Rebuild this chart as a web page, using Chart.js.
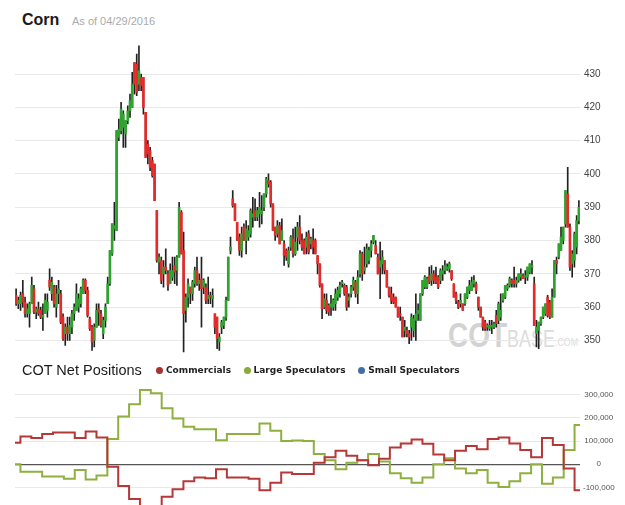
<!DOCTYPE html>
<html>
<head>
<meta charset="utf-8">
<script src="https://cdn.jsdelivr.net/npm/chart.js@4.4.1/dist/chart.umd.min.js"></script>
<style>
  html, body { margin: 0; padding: 0; background: #fff; }
  body { width: 625px; height: 505px; overflow: hidden; position: relative; font-family: "Liberation Sans", Arial, sans-serif; }
  .abs { position: absolute; white-space: nowrap; }
  #title { left: 22px; top: 11.5px; font-size: 16px; line-height: 16px; font-weight: bold; color: #1a1a1a; }
  #asof { left: 72px; top: 15.7px; font-size: 11px; line-height: 11px; color: #aaa; }
  .mark { font-family: "Liberation Sans", sans-serif; color: #dcdcdc; transform-origin: 0 0; }
  #markA { left: 448px; top: 317.4px; font-size: 35px; line-height: 35px; font-weight: bold; color: #d3d3d3; transform: scaleX(0.8); }
  #markB { left: 507px; top: 327.5px; font-size: 23px; line-height: 23px; transform: scaleX(0.78); }
  #markC { left: 555px; top: 336.7px; font-size: 11px; line-height: 11px; transform: scaleX(0.8); }
  #priceChart { position: absolute; left: 0; top: 0; }
  #cotTitle { left: 22px; top: 363.4px; font-size: 14.5px; line-height: 14.5px; color: #1a1a1a; }
  #legend { left: 156px; top: 365.7px; font: bold 9px "DejaVu Sans", sans-serif; line-height: 9px; color: #222; display: flex; }
  #legend .item { display: flex; align-items: center; margin-right: 12.5px; }
  #legend .dot { width: 7px; height: 7px; border-radius: 50%; margin-right: 3px; }
  #cotChart { position: absolute; left: 0; top: 380px; }
</style>
</head>
<body>
<div id="title" class="abs">Corn</div>
<div id="asof" class="abs">As of 04/29/2016</div>
<div id="markA" class="abs mark">COT</div>
<div id="markB" class="abs mark">BASE</div>
<div id="markC" class="abs mark">.COM</div>
<canvas id="priceChart" width="625" height="367"></canvas>
<div id="cotTitle" class="abs">COT Net Positions</div>
<div id="legend" class="abs"></div>
<canvas id="cotChart" width="625" height="150"></canvas>
<script>
// --- DATA: daily corn prices (cents/bu), 04/2015 - 04/29/2016 ---
const open = [
  363.5,361,361,364,361.5,358,358,361,365.5,358.5,
  359.5,359,357,358,359,368,364,366,360,364,
  364,357,352,354,352,354,358,359,360,361,
  364,368,365,356.5,354,350,354,359.5,358,352,
  356,361,367,376,383.5,383,411,413,414,412,
  416,419,420,433.5,433,427,429,429,418.5,409,
  407,404,403,389,373.5,374,370,372,370,367,
  369,372.5,371,375,388.5,377,359,363,366,364,
  367,371,367,368.5,366,366,362.5,363.5,362.5,358,
  357,349.5,354,354.5,357,362,377,392.5,391,385.5,
  381,377,384,380,381,382,387,389,387,388,
  388,390,394,398,397.5,391,384,382,384.5,380,
  379,377,373,378,380.5,376,381,384,380,380,
  378,382,379,380,380,375.5,373,367,360,362,
  360.5,360,360,361,363,364,367,366.5,366,362,
  364,366,367.5,364,370,376,371,373,374,377,
  379.5,378.5,375,372,373,374,371,366,364,363,
  363,360,358,357,353,353,352,354,353,356,
  358,356,364,366,366,369.5,368,370,369,369,
  368,370,371,371.5,371.5,371,367,364,361.5,361,
  361,361,363,365,365,367,367,363,360,357,
  355.5,354,353.5,354,354,357.5,356,357,362,363,
  365.5,366.5,368,368,367,368,369,369.5,369,369,
  370.5,372,367,352,353,355,357,358,363,361.5,
  357,363,374,375,377,380,385,394,384,373,
  374,378,386
];
const high = [
  365.5,363,364.5,368,363,361,361.5,369,366.5,360,
  361.5,360,361,364,364,371.5,369,366.5,366.5,368,
  365,358,355,357,357,359,361,367,364,366,
  368.5,368.5,366,357,354.5,355,361,361,359,357,
  361,369,377,385,391.5,413,416.5,421.5,419,416,
  420.5,424,430.5,433.5,436,438.5,430,429,418.5,410,
  408,405,403,389,376,375,374,377.5,371,373,
  375,375,375.5,391.5,389,382.5,364,368.5,366,368,
  372,375,370,375,368.5,367,369,364.5,365.5,358,
  357,352,356,357,363,375,381,395,391,385.5,
  382,384,385,386,384.5,389.5,393,392.5,390,394.5,
  393.5,394,399,400,398,391,384,386,385.5,386.5,
  380,377.5,378,381.5,383.5,384,385.5,387.5,382,380.5,
  382.5,383,381,383.5,380.5,375.5,373,367,364,364,
  361,363.5,362.5,365.5,366,367.5,368,367,366.5,364,
  366.5,369,368,371,377,376.5,378,379,378,380,
  381.5,380,376,379.5,377,374,371,366,366,364,
  363,360,360,357,356,354,353,358,357.5,364,
  361,364,368,369.5,369,372,372.5,371,372,369.5,
  371.5,372.5,374,373,373.5,371,367,364.5,362,364,
  361,364,366,368,369,369.5,367.5,363,360,357,
  356,355,356,356,355.5,359,361.5,364,364,366.5,
  367,369,368.5,372,369,370,371.5,370,371,372,
  373,374,369,356,355.5,357,360,361,363.5,362,
  365.5,374,375,379,384,384,395,402,385,377,
  382.5,387.5,392
];
const low = [
  360.5,359.5,359,360,357,357,354,361,358,356.5,
  357.5,356.5,353,358,357,365,362,360,357,361,
  355,350,348.5,350,350,352,356,359,358.5,360,
  364,364,357,353,347,348,354,354.5,354,350.5,
  354,361,366.5,375.5,380,383,410,412,408,408,
  415,417,420,424,423.5,425,425,418,405,403,
  401,399,392,373.5,370,367,366,370,365,367,
  368,367,366.5,375,376,346.5,355.5,360,361,362,
  366,366.5,365,354,364,361,361,361,360,352,
  347.5,347,352,353.5,356,362,376,390,386,380,
  375.5,375,380,376,380,381,384,386,386,384,
  385,389,393,396,390,383,380,381,379,380,
  372.5,374,372,377,375,375.5,377,379,377,376,
  376,376,377.5,376,376,370,366,356.5,359.5,358,
  357.5,357.5,359,359,362,363,366,363.5,359,360,
  363,365,363,361,369,368,370,372,373,375,
  379,376,370,362.5,370,370,366,363,361,361,
  360,357,356,351,351,351,349,350,351,350,
  356,356,363.5,365.5,365.5,367,366.5,367,367,365.5,
  367,368,370,371,370.5,368,363,361,359.5,360,
  359,360.5,362.5,364,365,366,364,359,357,353,
  353,353,353,352,353.5,354,355,356,361.5,362.5,
  365,366,366,366,366,367.5,368,368.5,367,368,
  370,370,354.5,348,347.5,354.5,356.5,357.5,357,356.5,
  357,363,370,374.5,377,379,384,384,371,369,
  372,376,385
];
const close = [
  361,362,363.5,361.5,358,359.5,361,366.5,358.5,359.5,
  358,357,357.5,362,361.5,366,367.5,361,364,365.5,
  355.5,350.5,354,352,354.5,358,360,364,362.5,365.5,
  368,365,357.5,353.5,349.5,354,359,358.5,354.5,356,
  360,367,377,385,384.5,413,413.5,419.5,418,416,
  419,422,427,427,424.5,431,426.5,420,405,406,
  402,399.5,392,374,375,368,372,371,366.5,371,
  371,370.5,375,390,376,358,363,367,364,367.5,
  371,367,368,365.5,368,362,363.5,363,363.5,354,
  350.5,351,355.5,357,362,375,378,390.5,386,380,
  377,382,380,383.5,383,389,388,387,389,390,
  389,394,398.5,397,391,383,381.5,384.5,379,383,
  375.5,375,377,381,376,379.5,384,380,378,376,
  381,376.5,380.5,378,376,373,366.5,359.5,362.5,359,
  358.5,361,362,364,365,366.5,367.5,364,360,363,
  366,368,364,369,376,370,372,377.5,377,379,
  381.5,376,370,374,375,371,366,363.5,362,361.5,
  360,357,357.5,351,354,352,351,357,356.5,358,
  359,364,368,369,368.5,367.5,370,368,367.5,366,
  371,371,372.5,372,373,368.5,363,362,360,362,
  359,364,366,366.5,367.5,368,365,360,357,354,
  353.5,354.5,354.5,354.5,355,355,361,359,364,366.5,
  366.5,368.5,367,367,368,370,370,368.5,369.5,372,
  373,372.5,354.5,354,355.5,357,360,361,357.5,357,
  363,374,373,379,381,384,395,384,372,376,
  382,386,390
];
const priceTicks = [350, 360, 370, 380, 390, 400, 410, 420, 430];

// weekly COT net positions (contracts)
const commercials = [
  93000,120000,113000,131000,137000,137000,113000,141000,116000,-11000,
  -94000,-150000,-190000,-190000,-140000,-108000,-73000,-57000,-60000,-22000,
  -57000,-57000,-62000,-112000,-80000,-35000,-42000,-42000,7000,30000,
  58000,37000,17000,-4000,24000,72000,90000,107000,89000,42000,
  17000,58000,79000,65000,109000,116000,90000,62000,30000,113000,
  83000,-18000,-112000
];
const largeSpecs = [
  0,-32000,-32000,-53000,-53000,-62000,-25000,-66000,-48000,109000,
  206000,259000,321000,307000,242000,197000,162000,151000,151000,104000,
  131000,131000,131000,176000,145000,100000,103000,100000,44000,17000,
  -21000,7000,17000,44000,12000,-39000,-60000,-80000,-57000,0,
  26000,-18000,-39000,-25000,-80000,-98000,-73000,-39000,0,-84000,
  -57000,62000,169000
];
const smallSpecs = []; // series switched off in the reference, legend entry only
const cotTicks = [-100000, 0, 100000, 200000, 300000];

const days = close.map((_, i) => i);
const weeks = commercials.map((_, i) => i);

const UP = '#2ea32e';
const DOWN = '#e52a2a';

// --- PRICE CHART (candles from floating bars) ---
const wicks = low.map((l, i) => [l, high[i]]);
const bodies = open.map((o, i) => [Math.min(o, close[i]), Math.max(o, close[i])]);

new Chart(document.getElementById('priceChart'), {
    type: 'bar',
    data: {
        labels: days,
        datasets: [{
            label: 'Body',
            data: bodies,
            backgroundColor: ctx => close[ctx.dataIndex] >= open[ctx.dataIndex] ? UP : DOWN,
            barThickness: 2,
            minBarLength: 1,
            grouped: false,
            order: 0
        }, {
            label: 'Range',
            data: wicks,
            backgroundColor: '#222',
            barThickness: 1,
            grouped: false,
            order: 1
        }]
    },
    options: {
        responsive: false,
        animation: false,
        layout: { padding: { left: 15, right: 0, top: 37.5, bottom: 1.1 } },
        plugins: { legend: { display: false }, tooltip: { enabled: false } },
        scales: {
            x: { display: false, offset: true },
            y: {
                position: 'right',
                min: 345,
                max: 441,
                afterFit: s => { s.width = 45; },
                afterBuildTicks: s => { s.ticks = priceTicks.map(v => ({ value: v })); },
                grid: { color: '#e9e9e9', lineWidth: 1, drawTicks: false },
                border: { display: false },
                ticks: { padding: 4, color: '#444', font: { size: 10, family: 'Liberation Sans' } }
            }
        }
    }
});

// --- COT CHART ---
const cotChart = new Chart(document.getElementById('cotChart'), {
    type: 'line',
    data: {
        labels: weeks,
        datasets: [{
            label: 'Commercials',
            data: commercials,
            borderColor: '#b53838',
            backgroundColor: '#a83232',
            borderWidth: 2,
            pointRadius: 0,
            stepped: 'middle'
        }, {
            label: 'Large Speculators',
            data: largeSpecs,
            borderColor: '#8fb040',
            backgroundColor: '#8aab3c',
            borderWidth: 2,
            pointRadius: 0,
            stepped: 'middle'
        }, {
            label: 'Small Speculators',
            data: smallSpecs,
            borderColor: '#4a78b0',
            backgroundColor: '#4170a8',
            borderWidth: 2,
            pointRadius: 0,
            stepped: 'middle'
        }]
    },
    options: {
        responsive: false,
        animation: false,
        layout: { padding: { left: 15, right: 0, top: 4.5, bottom: 5.75 } },
        plugins: { legend: { display: false }, tooltip: { enabled: false } },
        scales: {
            x: { display: false, offset: false },
            y: {
                position: 'right',
                min: -250000,
                max: 330000,
                afterFit: s => { s.width = 45; },
                afterBuildTicks: s => { s.ticks = cotTicks.map(v => ({ value: v })); },
                grid: {
                    color: ctx => ctx.tick && ctx.tick.value === 0 ? '#555' : '#e8e8e8',
                    lineWidth: ctx => ctx.tick && ctx.tick.value === 0 ? 1.2 : 1,
                    drawTicks: false
                },
                border: { display: false },
                ticks: {
                    padding: 3,
                    crossAlign: 'center',
                    color: '#555',
                    font: { size: 8, family: 'Liberation Sans' },
                    callback: v => v.toLocaleString('en-US')
                }
            }
        }
    }
});

// legend built from the chart's datasets
const legend = document.getElementById('legend');
cotChart.data.datasets.forEach(ds => {
    const item = document.createElement('span');
    item.className = 'item';
    item.innerHTML = `<span class="dot" style="background:${ds.backgroundColor}"></span>${ds.label}`;
    legend.appendChild(item);
});
</script>
</body>
</html>
